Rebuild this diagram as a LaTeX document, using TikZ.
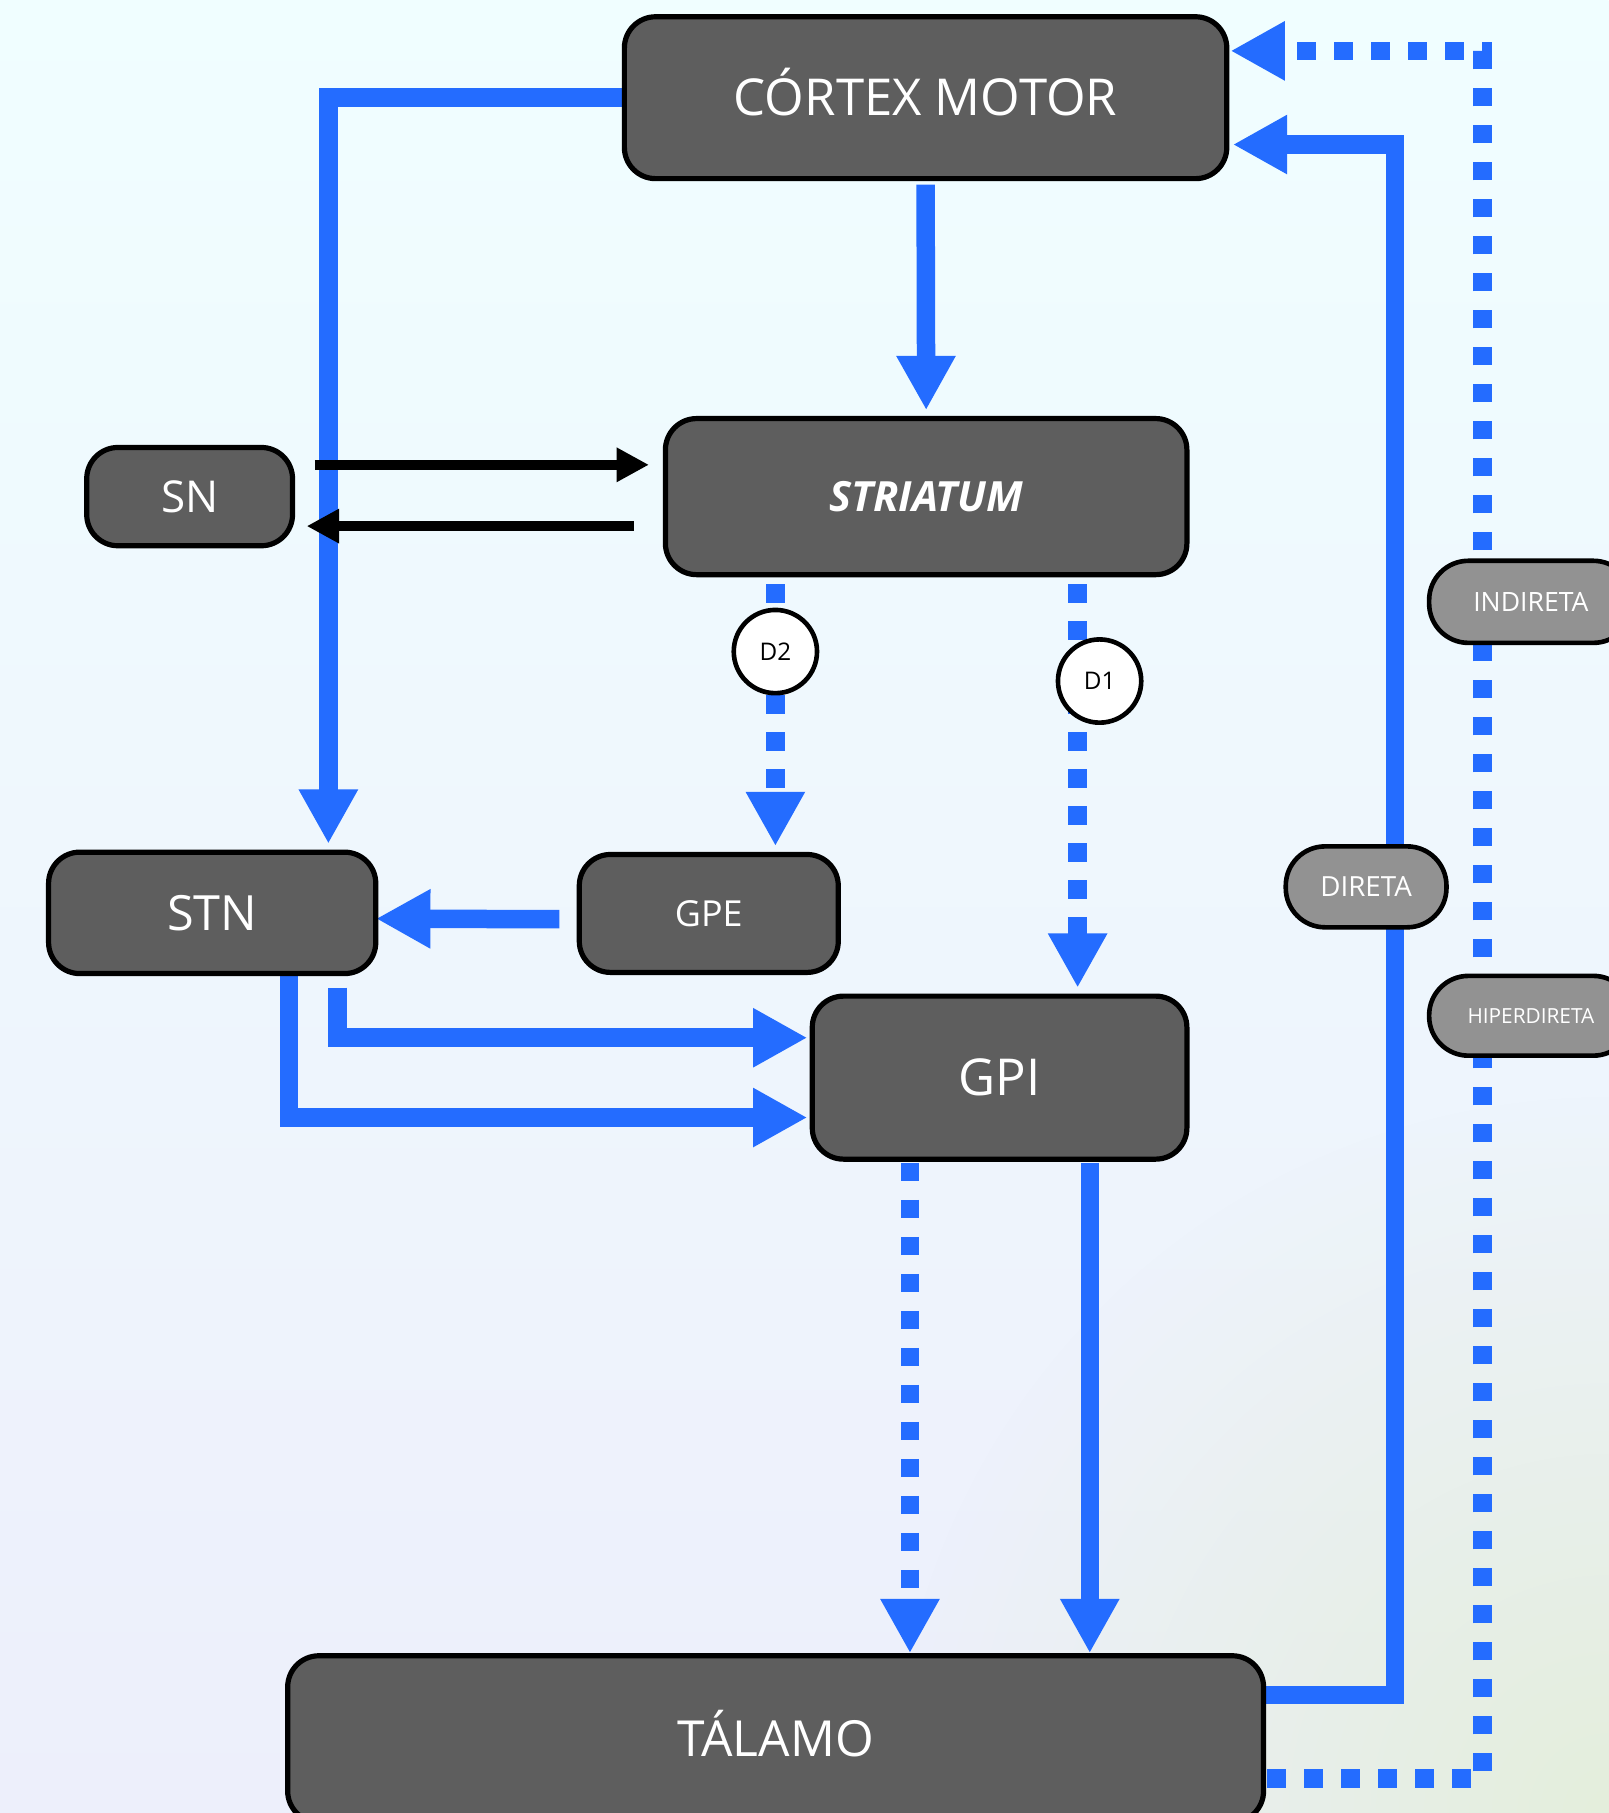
\documentclass[tikz,border=0pt]{standalone}
\usepackage{fontspec}
\setmainfont{Open Sans}
\usetikzlibrary{arrows.meta,fadings,calc}

\definecolor{flow}{RGB}{36,108,255}
\definecolor{boxgray}{RGB}{94,94,94}
\definecolor{pillgray}{RGB}{146,146,146}
\definecolor{bgtop}{RGB}{240,254,255}
\definecolor{bgbot}{RGB}{237,239,251}
\definecolor{bggreen}{RGB}{228,238,220}

\tikzfading[name=cornerglow, inner color=transparent!0, outer color=transparent!100]

\pgfdeclarelayer{backdrop}
\pgfdeclarelayer{wires}
\pgfsetlayers{backdrop,wires,main}

\newcommand{\fsz}[1]{\fontsize{#1}{#1}\selectfont}

\begin{document}
\begin{tikzpicture}[x=1pt,y=-1pt,
  region/.style={draw=black, line width=4.5pt, fill=boxgray, rounded corners=27pt,
    text=white, inner sep=0pt, text depth=0pt},
  pill/.style={draw=black, line width=4pt, fill=pillgray, rounded corners=34pt,
    text=white, inner sep=0pt, text depth=0pt},
  receptor/.style={circle, draw=black, line width=4pt, fill=white, inner sep=0pt,
    minimum size=72pt, text depth=0pt},
  flowline/.style={draw=flow, line width=16pt, line join=miter,
    -{Triangle[length=47pt,width=48pt]}},
  flowdots/.style={flowline, dash pattern=on 16pt off 16pt},
  signal/.style={draw=black, line width=8.5pt, -{Triangle[length=28pt,width=28pt]}},
]
\useasboundingbox (0,0) rectangle (1391,1568);

% soft background wash
\begin{pgfonlayer}{backdrop}
  \shade[top color=bgtop, bottom color=bgbot] (0,0) rectangle (1391,1568);
  \fill[bggreen, path fading=cornerglow] (1391,1568) circle (620pt);
\end{pgfonlayer}

% structures
\node[region, minimum width=521pt, minimum height=140pt, text height=31.4pt, font=\fsz{44}]
  (cortex) at (800.5,84.5) {CÓRTEX MOTOR};
\node[region, minimum width=451pt, minimum height=135pt, text height=25.7pt, font=\fsz{36}\bfseries\itshape]
  (striatum) at (801,429.5) {STRIATUM};
\node[region, minimum width=178pt, minimum height=85pt, text height=27.1pt, font=\fsz{38}]
  (sn) at (164,429.5) {SN};
\node[region, minimum width=283pt, minimum height=105pt, text height=30pt, font=\fsz{42}]
  (stn) at (183.5,789.5) {STN};
\node[region, minimum width=224pt, minimum height=102pt, text height=22.1pt, font=\fsz{31}]
  (gpe) at (613,790) {GPE};
\node[region, minimum width=324pt, minimum height=141pt, text height=31.4pt, font=\fsz{44}]
  (gpi) at (864.5,932) {GPI};
\node[region, minimum width=844pt, minimum height=144pt, text height=30.7pt, font=\fsz{43}]
  (talamo) at (670.8,1504) {TÁLAMO};

% pathway labels
\node[pill, minimum width=176pt, minimum height=71pt, text height=16.4pt, font=\fsz{23}]
  (indireta) at (1324,520.5) {INDIRETA};
\node[pill, minimum width=139pt, minimum height=70pt, text height=17.1pt, font=\fsz{24}]
  (direta) at (1181.5,767) {DIRETA};
\node[pill, minimum width=176pt, minimum height=69pt, text height=12.9pt, font=\fsz{18}]
  (hiper) at (1324,878.5) {HIPERDIRETA};

% dopamine receptors
\node[receptor, text height=15pt, font=\fsz{21}] (d2) at (670.6,563.5) {D2};
\node[receptor, text height=15pt, font=\fsz{21}] (d1) at (951,589) {D1};

% bend points of the long return loops
\coordinate (dirbend) at ($(direta.center)+(25,0)$);
\coordinate (hypbend) at ($(hiper.center)+(-42,0)$);
\coordinate (d1axis) at ($(gpi.north)+(67.5,-5)$);
\coordinate (gpiL) at ($(gpi.south)+(-77.5,1)$);
\coordinate (gpiR) at ($(gpi.south)+(78,1)$);

\begin{pgfonlayer}{wires}
  % cortical input
  \draw[flowline] ($(cortex.south)+(0,3)$) -- ($(striatum.north)+(0,-5)$);
  \draw[flowline] (cortex.west) -| ($(stn.north)+(100.5,-5)$);
  % indirect branch through D2
  \draw[flowdots] ($(d2.center |- striatum.south)+(0,6)$) -- ($(d2.center |- gpe.north)+(0,-5)$);
  \draw[flowline] ($(gpe.west)+(-15,5)$) -- ($(stn.east)+(-2,5)$);
  % direct branch through D1
  \draw[flowdots] (d1axis |- striatum.south) ++(0,6) -- (d1axis);
  % subthalamic output
  \draw[flowline] ($(stn.south)+(108.5,10)$) |- ($(gpi.west)+(-2,-34.5)$);
  \draw[flowline] ($(stn.south)+(66.5,-1)$) |- ($(gpi.west)+(-2,34.5)$);
  % pallidal output
  \draw[flowdots] (gpiL) -- (gpiL |- talamo.north);
  \draw[flowline] (gpiR) -- (gpiR |- talamo.north);
  % thalamic return loops
  \draw[flowline] ($(talamo.east)+(0,-38)$) -| (dirbend) |- ($(cortex.east)+(3,40.5)$);
  \draw[flowdots] ($(talamo.east)+(1,34)$) -| (hypbend) |- ($(cortex.east)+(1,-40.5)$);
  % nigro-striatal exchange
  \draw[signal] ($(sn.east)+(17,-27.5)$) -- ($(striatum.west)+(-12,-27.5)$);
  \draw[signal] ($(striatum.west)+(-25,25.5)$) -- ($(sn.east)+(10,25.5)$);
\end{pgfonlayer}
\end{tikzpicture}
\end{document}
